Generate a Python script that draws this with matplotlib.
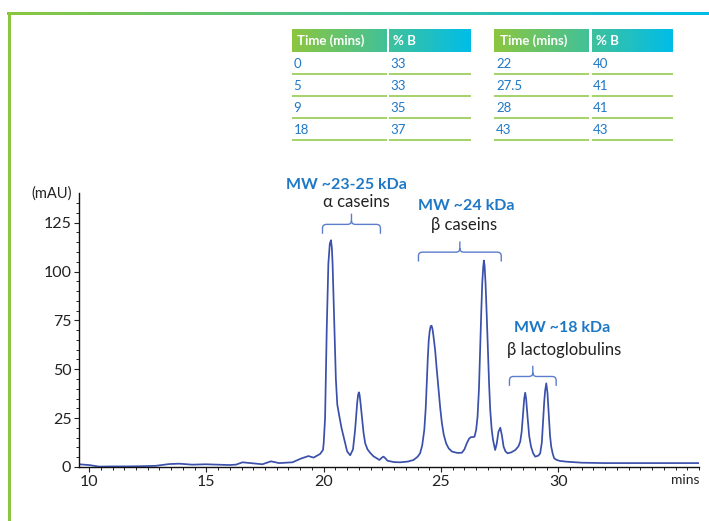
import numpy as np
import matplotlib
matplotlib.use('Agg')
import matplotlib.pyplot as plt
from matplotlib.colors import LinearSegmentedColormap
from matplotlib.path import Path
from matplotlib.patches import PathPatch, Rectangle

plt.rcParams['font.family'] = ['Lato', 'DejaVu Sans']

# chromatogram (minutes, mAU)
time_min = [9.57, 10.0, 10.43, 11.0, 11.6, 12.2, 12.84, 13.41, 13.84, 14.4, 14.98,
            15.5, 15.97, 16.26, 16.54, 16.96, 17.39, 17.75, 18.1, 18.67, 19.03,
            19.35, 19.57, 19.85, 19.97, 20.0, 20.06, 20.13, 20.2, 20.26, 20.31,
            20.35, 20.38, 20.46, 20.52, 20.58, 20.67, 20.76, 20.85, 21.0, 21.13,
            21.25, 21.34, 21.43, 21.47, 21.5, 21.53, 21.56, 21.63, 21.7, 21.77,
            21.87, 21.98, 22.12, 22.27, 22.38, 22.48, 22.55, 22.62, 22.72, 23.0,
            23.26, 23.6, 23.83, 24.0, 24.11, 24.2, 24.29, 24.35, 24.4, 24.44,
            24.48, 24.52, 24.56, 24.6, 24.64, 24.68, 24.75, 24.82, 24.9, 24.97,
            25.04, 25.12, 25.22, 25.33, 25.47, 25.7, 25.89, 26.0, 26.1, 26.2,
            26.28, 26.36, 26.43, 26.5, 26.56, 26.62, 26.67, 26.72, 26.76, 26.8,
            26.83, 26.86, 26.9, 26.95, 27.0, 27.05, 27.1, 27.16, 27.22, 27.31,
            27.38, 27.45, 27.53, 27.6, 27.67, 27.75, 27.84, 28.0, 28.17, 28.3,
            28.38, 28.44, 28.49, 28.55, 28.59, 28.63, 28.69, 28.76, 28.84, 28.93,
            29.02, 29.15, 29.23, 29.3, 29.35, 29.4, 29.44, 29.49, 29.54, 29.6,
            29.65, 29.7, 29.77, 29.83, 29.95, 30.08, 30.37, 31.0, 32.0, 33.0,
            34.0, 35.0, 36.0]
absorbance = [1.4, 1.0, 0.2, 0.3, 0.3, 0.4, 0.6, 1.5, 1.7, 1.2, 1.4,
              1.2, 1.0, 1.2, 2.4, 1.9, 1.4, 2.9, 2.0, 2.4, 4.3,
              5.6, 4.8, 6.7, 8.7, 12.0, 25.0, 70.0, 104.0, 114.0, 116.0,
              112.0, 104.0, 70.0, 45.0, 32.0, 25.8, 20.0, 15.5, 8.0, 6.0,
              9.0, 19.0, 33.0, 37.0, 38.2, 37.0, 34.0, 25.8, 17.5, 12.1,
              9.0, 7.3, 5.5, 4.4, 3.6, 4.8, 5.3, 4.6, 3.2, 2.5,
              2.4, 2.8, 3.6, 5.2, 7.0, 11.0, 19.0, 30.0, 44.5, 56.0,
              65.0, 69.5, 72.0, 72.3, 70.5, 67.0, 60.0, 50.0, 39.4, 30.0,
              22.4, 16.5, 12.1, 9.5, 7.9, 7.2, 7.3, 9.0, 12.1, 14.5,
              15.3, 15.3, 15.5, 19.0, 25.8, 40.0, 60.0, 80.0, 94.0, 102.0,
              105.6, 103.0, 94.0, 78.0, 60.0, 43.0, 29.2, 19.5, 13.8, 8.7,
              12.0, 18.0, 20.1, 16.0, 10.4, 8.0, 7.0, 7.5, 8.7, 10.5,
              13.0, 18.0, 25.8, 35.0, 38.0, 35.0, 25.8, 16.0, 10.4, 7.0,
              5.3, 5.8, 7.0, 12.5, 22.4, 33.0, 39.0, 42.8, 38.0, 25.8,
              16.0, 10.4, 6.5, 4.4, 3.5, 3.1, 2.7, 2.2, 2.0, 2.0,
              2.0, 2.0, 2.0]

# gradient tables
grad_time_1 = ['0', '5', '9', '18']
grad_b_1 = ['33', '33', '35', '37']
grad_time_2 = ['22', '27.5', '28', '43']
grad_b_2 = ['40', '41', '41', '43']

# peak group annotations: (x start, x end, brace y, MW label, protein)
groups = [
    (19.95, 22.42, 119.3, 'MW ~23-25 kDa', 'α caseins'),
    (24.04, 27.57, 105.1, 'MW ~24 kDa', 'β caseins'),
    (27.92, 29.91, 41.5, 'MW ~18 kDa', 'β lactoglobulins'),
]

GREEN = '#8cc63f'
CYAN = '#00bde9'
BLUE_TXT = '#1f78c6'
LINE = '#3a50aa'
BRACE = '#5b7dcc'
grad_cmap = LinearSegmentedColormap.from_list('gc', [GREEN, CYAN])
ramp = np.linspace(0, 1, 256).reshape(1, -1)

W, H = 709, 521
fig = plt.figure(figsize=(W / 100, H / 100), dpi=100)

# overlay in pixel coordinates for frame and tables
ov = fig.add_axes([0, 0, 1, 1])
ov.axis('off')
ov.imshow(ramp, cmap=grad_cmap, extent=(7, W, 15.5, 12.5), aspect='auto')
ov.add_patch(Rectangle((7.5, 12.5), 3, H, color=GREEN, lw=0))


def draw_table(x_cols, times, pcts):
    (a0, a1), (b0, b1) = x_cols
    ov.imshow(ramp, cmap=grad_cmap, extent=(a0, b1, 52, 29.5), aspect='auto')
    ov.add_patch(Rectangle((a1, 29), b0 - a1, 24, color='white', lw=0))
    ov.text(a0 + 5.5, 41, 'Time (mins)', color='white', fontweight='bold',
            fontsize=9.5, va='center', ha='left')
    ov.text(b0 + 4, 41, '% B', color='white', fontweight='bold',
            fontsize=9.5, va='center', ha='left')
    for i, (t, p) in enumerate(zip(times, pcts)):
        yc = 63.5 + 22 * i
        ov.text(a0 + 2, yc, t, color=BLUE_TXT, fontsize=9.5, va='center', ha='left')
        ov.text(b0 + 1.5, yc, p, color=BLUE_TXT, fontsize=9.5, va='center', ha='left')
        yl = 74 + 22 * i
        ov.plot([a0, a1], [yl, yl], color=GREEN, lw=1.1, solid_capstyle='butt')
        ov.plot([b0, b1], [yl, yl], color=GREEN, lw=1.1, solid_capstyle='butt')


draw_table([(291.7, 387.3), (389.3, 470.7)], grad_time_1, grad_b_1)
draw_table([(494.3, 589.3), (591.7, 673.3)], grad_time_2, grad_b_2)
ov.set_xlim(0, W)
ov.set_ylim(H, 0)

# chromatogram axes
ax = fig.add_axes([79 / W, 1 - 467 / H, (699 - 79) / W, (467 - 193.3) / H])
ax.patch.set_alpha(0)
ax.plot(time_min, absorbance, color=LINE, lw=1.25)
ax.set_xlim(9.57, 36)
ax.set_ylim(0, 140)
ax.spines['top'].set_visible(False)
ax.spines['right'].set_visible(False)
for s in ('left', 'bottom'):
    ax.spines[s].set_linewidth(1.0)
    ax.spines[s].set_color('#111111')
ax.set_xticks([10, 15, 20, 25, 30])
ax.set_xticks(np.arange(10, 36.01, 0.5), minor=True)
ax.set_yticks([0, 25, 50, 75, 100, 125])
ax.set_yticks(np.arange(0, 136, 5), minor=True)
ax.tick_params(which='major', length=3.5, width=0.8, labelsize=11.5,
               colors='#222222', pad=2)
ax.tick_params(which='minor', length=2, width=0.7, colors='#222222')
ax.text(-0.012, 1.0, '(mAU)', transform=ax.transAxes, ha='right', va='center',
        fontsize=10.5, color='#222222')
ax.text(1.0, -0.047, 'mins', transform=ax.transAxes, ha='right', va='center',
        fontsize=10, color='#222222')

# braces and labels
dx, dy = 0.17, 2.0
for x0, x1, yb, mw, name in groups:
    xc = (x0 + x1) / 2
    ym = yb + 4.8
    yt = ym + 5.5
    verts = [(x0, yb), (x0, ym - dy), (x0, ym), (x0 + dx, ym), (xc - dx, ym),
             (xc, ym), (xc, ym + dy), (xc, yt),
             (xc, ym + dy), (xc, ym), (xc + dx, ym), (x1 - dx, ym),
             (x1, ym), (x1, ym - dy), (x1, yb)]
    codes = [Path.MOVETO, Path.LINETO, Path.CURVE3, Path.CURVE3, Path.LINETO,
             Path.CURVE3, Path.CURVE3, Path.LINETO,
             Path.MOVETO, Path.CURVE3, Path.CURVE3, Path.LINETO,
             Path.CURVE3, Path.CURVE3, Path.LINETO]
    ax.add_patch(PathPatch(Path(verts, codes), fill=False, edgecolor=BRACE,
                           lw=1.0, clip_on=False))

ax.text(20.99, 144.4, groups[0][3], color=BLUE_TXT, fontweight='bold',
        fontsize=11.5, ha='center', va='center')
ax.text(21.38, 135.3, groups[0][4], color='#222222', fontsize=12,
        ha='center', va='center')
ax.text(26.07, 133.3, groups[1][3], color=BLUE_TXT, fontweight='bold',
        fontsize=11.5, ha='center', va='center')
ax.text(25.97, 123.6, groups[1][4], color='#222222', fontsize=12,
        ha='center', va='center')
ax.text(30.15, 71.0, groups[2][3], color=BLUE_TXT, fontweight='bold',
        fontsize=11.5, ha='center', va='center')
ax.text(30.23, 59.9, groups[2][4], color='#222222', fontsize=12,
        ha='center', va='center')

fig.savefig('out.png', dpi=100)
